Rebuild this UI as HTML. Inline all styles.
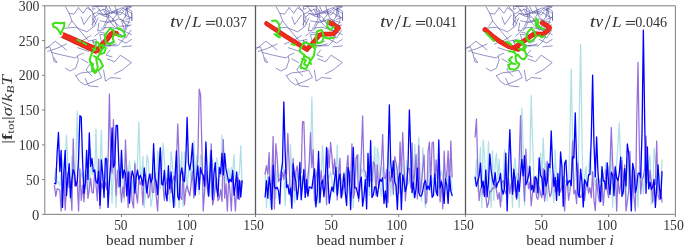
<!DOCTYPE html>
<html><head><meta charset="utf-8"><style>
html,body{margin:0;padding:0;background:#fff;overflow:hidden;}
svg{display:block;will-change:transform;}
text{font-family:"Liberation Serif",serif;fill:#333;}
</style></head><body>
<svg width="685" height="247" viewBox="0 0 685 247">
<rect width="685" height="247" fill="#fff"/>
<polyline points="54.45,180.37 55.79,168.30 57.13,182.01 58.47,182.21 59.81,185.75 61.15,174.32 62.49,159.11 63.83,178.76 65.17,167.55 66.51,135.00 67.85,165.26 69.19,175.29 70.53,201.31 71.87,155.85 73.22,169.18 74.56,180.42 75.90,161.46 77.24,111.30 78.58,161.10 79.92,179.26 81.26,172.24 82.60,178.36 83.94,170.61 85.28,187.62 86.62,170.51 87.96,169.91 89.30,190.98 90.64,149.85 91.98,174.55 93.32,170.76 94.66,177.04 96.00,129.00 97.34,174.27 98.68,176.47 100.02,169.07 101.36,130.00 102.70,174.46 104.04,186.64 105.38,176.91 106.72,156.26 108.06,196.08 109.40,173.25 110.74,165.35 112.08,203.31 113.42,169.87 114.77,151.84 116.11,207.40 117.45,174.45 118.79,164.70 120.13,193.78 121.47,167.60 122.81,175.19 124.15,201.13 125.49,156.34 126.83,166.78 128.17,174.96 129.51,161.12 130.85,178.60 132.19,180.10 133.53,192.94 134.87,160.74 136.21,185.82 137.55,160.14 138.89,121.80 140.23,172.49 141.57,177.86 142.91,156.30 144.25,207.40 145.59,190.36 146.93,155.23 148.27,160.33 149.61,183.00 150.95,206.73 152.29,197.85 153.63,152.81 154.98,188.89 156.32,196.28 157.66,151.23 159.00,164.52 160.34,188.66 161.68,173.17 163.02,143.30 164.36,159.44 165.70,178.22 167.04,175.30 168.38,169.28 169.72,202.11 171.06,151.77 172.40,164.25 173.74,183.39 175.08,206.19 176.42,171.72 177.76,156.52 179.10,207.40 180.44,172.95 181.78,151.56 183.12,206.34 184.46,151.92 185.80,168.27 187.14,191.21 188.48,169.72 189.82,165.38 191.16,182.18 192.50,162.89 193.84,141.00 195.19,182.59 196.53,155.48 197.87,182.73 199.21,194.41 200.55,154.61 201.89,158.81 203.23,198.05 204.57,194.14 205.91,164.24 207.25,177.58 208.59,185.18 209.93,153.72 211.27,197.14 212.61,159.62 213.95,193.87 215.29,187.25 216.63,157.79 217.97,164.83 219.31,176.42 220.65,176.48 221.99,135.00 223.33,165.93 224.67,169.95 226.01,182.43 227.35,173.22 228.69,168.23 230.03,181.46 231.37,167.45 232.71,170.94 234.05,154.53 235.40,183.15 236.74,188.29 238.08,175.20 239.42,173.49 240.76,145.70 242.10,186.99" fill="none" stroke="#b0e0e6" stroke-width="1.25" stroke-linejoin="round" stroke-linecap="round"/>
<polyline points="54.45,185.46 55.79,196.39 57.13,188.94 58.47,189.19 59.81,190.14 61.15,210.87 62.49,183.29 63.83,171.86 65.17,210.05 66.51,188.14 67.85,172.78 69.19,187.67 70.53,181.00 71.87,210.22 73.22,138.80 74.56,185.87 75.90,185.04 77.24,181.32 78.58,210.87 79.92,168.93 81.26,200.46 82.60,185.46 83.94,201.77 85.28,184.07 86.62,174.95 87.96,198.35 89.30,189.04 90.64,178.20 91.98,192.37 93.32,193.02 94.66,171.43 96.00,184.52 97.34,200.59 98.68,159.15 100.02,208.59 101.36,183.47 102.70,187.35 104.04,190.88 105.38,182.37 106.72,189.27 108.06,162.06 109.40,94.00 110.74,158.01 112.08,173.17 113.42,119.60 114.77,161.87 116.11,195.18 117.45,170.31 118.79,187.20 120.13,182.25 121.47,202.25 122.81,186.79 124.15,197.08 125.49,140.00 126.83,174.47 128.17,207.59 129.51,171.88 130.85,179.70 132.19,201.16 133.53,207.88 134.87,163.70 136.21,193.66 137.55,202.88 138.89,178.44 140.23,184.61 141.57,180.10 142.91,204.85 144.25,175.18 145.59,174.40 146.93,185.74 148.27,197.91 149.61,194.69 150.95,173.93 152.29,192.28 153.63,192.46 154.98,172.77 156.32,197.33 157.66,210.87 159.00,180.19 160.34,148.00 161.68,179.37 163.02,185.43 164.36,200.55 165.70,186.41 167.04,178.09 168.38,193.99 169.72,178.26 171.06,192.60 172.40,181.61 173.74,176.24 175.08,181.12 176.42,162.24 177.76,124.00 179.10,160.19 180.44,197.26 181.78,199.36 183.12,171.83 184.46,204.91 185.80,189.63 187.14,185.52 188.48,190.99 189.82,195.96 191.16,183.78 192.50,171.18 193.84,198.00 195.19,187.14 196.53,177.04 197.87,157.88 199.21,89.10 200.55,95.00 201.89,147.13 203.23,210.87 204.57,191.50 205.91,170.02 207.25,188.18 208.59,196.65 209.93,178.80 211.27,143.80 212.61,204.98 213.95,198.90 215.29,186.33 216.63,177.82 217.97,200.58 219.31,198.08 220.65,189.55 221.99,201.42 223.33,139.60 224.67,198.21 226.01,183.51 227.35,210.87 228.69,179.22 230.03,191.54 231.37,210.87 232.71,172.56 234.05,190.67 235.40,210.87 236.74,186.68 238.08,177.43 239.42,199.54 240.76,181.79 242.10,181.12" fill="none" stroke="#9370db" stroke-width="1.25" stroke-linejoin="round" stroke-linecap="round"/>
<polyline points="54.45,183.22 55.79,183.91 57.13,152.85 58.47,132.40 59.81,171.53 61.15,150.39 62.49,207.40 63.83,173.28 65.17,150.39 66.51,195.51 67.85,177.65 69.19,163.58 70.53,197.66 71.87,179.35 73.22,169.60 74.56,173.50 75.90,186.00 77.24,181.66 78.58,158.63 79.92,115.70 81.26,117.00 82.60,160.94 83.94,193.45 85.28,182.88 86.62,150.39 87.96,179.38 89.30,132.80 90.64,166.48 91.98,158.29 93.32,171.54 94.66,169.82 96.00,181.09 97.34,183.35 98.68,171.18 100.02,205.33 101.36,159.88 102.70,174.09 104.04,197.44 105.38,158.35 106.72,159.37 108.06,207.40 109.40,182.17 110.74,162.56 112.08,127.80 113.42,167.14 114.77,163.94 116.11,125.40 117.45,125.40 118.79,162.54 120.13,186.31 121.47,150.39 122.81,178.13 124.15,169.86 125.49,174.03 126.83,195.95 128.17,171.99 129.51,203.12 130.85,182.25 132.19,170.80 133.53,175.69 134.87,193.19 136.21,177.18 137.55,170.03 138.89,179.60 140.23,175.22 141.57,178.75 142.91,185.46 144.25,167.94 145.59,181.45 146.93,193.17 148.27,181.25 149.61,174.06 150.95,182.51 152.29,178.52 153.63,143.70 154.98,178.07 156.32,182.06 157.66,194.57 159.00,167.67 160.34,147.80 161.68,183.91 163.02,185.11 164.36,170.41 165.70,193.02 167.04,200.82 168.38,165.69 169.72,188.79 171.06,171.93 172.40,192.55 173.74,207.40 175.08,175.94 176.42,150.98 177.76,196.81 179.10,199.89 180.44,174.77 181.78,167.80 183.12,179.88 184.46,181.56 185.80,160.56 187.14,117.40 188.48,163.48 189.82,169.89 191.16,160.33 192.50,143.30 193.84,174.33 195.19,195.21 196.53,177.17 197.87,165.99 199.21,189.43 200.55,167.55 201.89,173.48 203.23,175.21 204.57,186.11 205.91,142.00 207.25,174.69 208.59,195.72 209.93,173.92 211.27,150.39 212.61,199.70 213.95,173.72 215.29,162.66 216.63,188.27 217.97,196.56 219.31,167.51 220.65,173.83 221.99,153.30 223.33,174.92 224.67,153.30 226.01,169.21 227.35,175.57 228.69,182.39 230.03,179.27 231.37,181.69 232.71,170.49 234.05,195.31 235.40,184.39 236.74,171.99 238.08,198.76 239.42,180.14 240.76,197.05 242.10,180.90" fill="none" stroke="#0000ff" stroke-width="1.3" stroke-linejoin="round" stroke-linecap="round"/>
<polyline points="265.12,172.00 266.45,207.40 267.79,171.91 269.13,164.00 270.46,207.40 271.80,196.85 273.13,151.90 274.47,183.43 275.81,198.33 277.14,170.43 278.48,173.11 279.81,176.97 281.15,173.58 282.48,162.84 283.82,172.79 285.16,205.80 286.49,178.50 287.83,184.73 289.16,192.34 290.50,144.60 291.84,177.19 293.17,176.06 294.51,203.02 295.84,188.19 297.18,168.09 298.52,183.67 299.85,186.28 301.19,176.34 302.52,188.60 303.86,167.87 305.19,176.22 306.53,186.31 307.87,187.14 309.20,176.54 310.54,149.78 311.87,97.20 313.21,158.10 314.55,204.67 315.88,171.85 317.22,171.63 318.55,203.89 319.89,176.27 321.23,176.34 322.56,145.50 323.90,174.03 325.23,183.58 326.57,191.39 327.90,175.45 329.24,177.84 330.58,171.97 331.91,179.29 333.25,192.10 334.58,192.87 335.92,174.86 337.26,145.00 338.59,193.40 339.93,173.21 341.26,183.68 342.60,178.88 343.94,171.42 345.27,188.57 346.61,166.50 347.94,193.05 349.28,170.98 350.61,176.50 351.95,169.01 353.29,207.40 354.62,178.92 355.96,163.25 357.29,178.21 358.63,154.83 359.97,185.50 361.30,169.10 362.64,171.35 363.97,173.96 365.31,177.96 366.65,184.34 367.98,171.52 369.32,195.44 370.65,160.51 371.99,194.95 373.32,177.11 374.66,146.73 376.00,196.37 377.33,147.90 378.67,156.07 380.00,186.68 381.34,196.06 382.68,167.13 384.01,170.78 385.35,178.06 386.68,193.68 388.02,151.23 389.35,163.41 390.69,195.91 392.03,175.43 393.36,181.07 394.70,161.64 396.03,195.52 397.37,170.81 398.71,163.80 400.04,190.40 401.38,164.27 402.71,163.91 404.05,191.40 405.39,189.65 406.72,160.56 408.06,184.10 409.39,180.53 410.73,157.28 412.06,172.91 413.40,197.19 414.74,144.61 416.07,186.94 417.41,173.40 418.74,137.30 420.08,175.91 421.42,201.31 422.75,147.80 424.09,166.02 425.42,207.40 426.76,191.62 428.10,184.63 429.43,157.59 430.77,192.55 432.10,183.24 433.44,177.67 434.77,180.65 436.11,194.39 437.45,173.08 438.78,196.01 440.12,176.44 441.45,170.79 442.79,177.94 444.13,186.50 445.46,189.54 446.80,171.07 448.13,185.82 449.47,159.31 450.81,175.06 452.14,190.21" fill="none" stroke="#b0e0e6" stroke-width="1.25" stroke-linejoin="round" stroke-linecap="round"/>
<polyline points="265.12,174.10 266.45,165.60 267.79,173.95 269.13,152.69 270.46,199.54 271.80,178.83 273.13,136.49 274.47,208.79 275.81,143.70 277.14,157.31 278.48,181.81 279.81,178.64 281.15,180.05 282.48,172.23 283.82,179.15 285.16,169.26 286.49,174.25 287.83,133.30 289.16,166.07 290.50,195.89 291.84,190.15 293.17,158.42 294.51,190.70 295.84,171.59 297.18,165.93 298.52,181.14 299.85,174.40 301.19,172.21 302.52,121.50 303.86,121.50 305.19,167.82 306.53,192.59 307.87,177.68 309.20,162.81 310.54,132.70 311.87,167.61 313.21,149.83 314.55,200.86 315.88,177.49 317.22,172.42 318.55,159.32 319.89,183.30 321.23,170.52 322.56,188.98 323.90,176.96 325.23,174.95 326.57,204.62 327.90,148.97 329.24,167.66 330.58,142.40 331.91,156.35 333.25,174.57 334.58,159.00 335.92,173.21 337.26,199.90 338.59,174.43 339.93,158.30 341.26,198.18 342.60,194.33 343.94,183.58 345.27,187.26 346.61,168.04 347.94,155.39 349.28,184.84 350.61,180.39 351.95,143.90 353.29,198.10 354.62,192.11 355.96,158.23 357.29,154.60 358.63,201.38 359.97,187.10 361.30,154.25 362.64,116.00 363.97,170.61 365.31,171.72 366.65,179.63 367.98,173.58 369.32,181.12 370.65,179.91 371.99,181.39 373.32,161.68 374.66,164.20 376.00,194.75 377.33,164.99 378.67,187.97 380.00,178.13 381.34,164.29 382.68,134.40 384.01,177.45 385.35,178.38 386.68,169.48 388.02,202.39 389.35,171.63 390.69,181.47 392.03,174.12 393.36,194.34 394.70,156.50 396.03,162.98 397.37,172.41 398.71,193.59 400.04,141.90 401.38,174.13 402.71,132.50 404.05,164.99 405.39,200.70 406.72,183.55 408.06,168.29 409.39,168.36 410.73,187.89 412.06,142.80 413.40,185.61 414.74,172.74 416.07,154.55 417.41,198.99 418.74,145.66 420.08,192.44 421.42,184.09 422.75,168.35 424.09,155.00 425.42,203.85 426.76,201.84 428.10,151.27 429.43,141.90 430.77,182.76 432.10,143.08 433.44,141.90 434.77,183.67 436.11,159.79 437.45,178.33 438.78,161.65 440.12,201.87 441.45,180.09 442.79,208.79 444.13,151.06 445.46,180.12 446.80,174.37 448.13,151.00 449.47,191.10 450.81,141.00 452.14,176.98" fill="none" stroke="#9370db" stroke-width="1.25" stroke-linejoin="round" stroke-linecap="round"/>
<polyline points="265.12,197.02 266.45,180.68 267.79,198.31 269.13,176.89 270.46,186.30 271.80,209.43 273.13,165.19 274.47,187.00 275.81,188.78 277.14,187.17 278.48,190.64 279.81,203.86 281.15,172.20 282.48,163.44 283.82,101.90 285.16,151.48 286.49,187.56 287.83,184.84 289.16,194.21 290.50,188.17 291.84,208.21 293.17,163.80 294.51,176.10 295.84,181.35 297.18,199.64 298.52,188.14 299.85,162.50 301.19,199.77 302.52,183.97 303.86,169.65 305.19,197.36 306.53,179.76 307.87,196.08 309.20,186.82 310.54,187.43 311.87,188.60 313.21,177.76 314.55,168.98 315.88,206.91 317.22,194.28 318.55,151.50 319.89,202.56 321.23,183.15 322.56,180.04 323.90,196.75 325.23,183.22 326.57,147.30 327.90,177.20 329.24,203.28 330.58,193.96 331.91,186.83 333.25,191.43 334.58,179.58 335.92,167.40 337.26,195.19 338.59,179.99 339.93,173.83 341.26,197.48 342.60,186.82 343.94,173.74 345.27,192.44 346.61,205.34 347.94,167.40 349.28,173.40 350.61,209.48 351.95,179.72 353.29,147.30 354.62,187.76 355.96,187.40 357.29,192.15 358.63,198.24 359.97,182.56 361.30,177.21 362.64,206.20 363.97,196.13 365.31,179.61 366.65,208.87 367.98,153.40 369.32,186.53 370.65,140.60 371.99,197.56 373.32,195.01 374.66,186.85 376.00,187.53 377.33,196.35 378.67,185.87 380.00,179.42 381.34,181.37 382.68,177.73 384.01,203.36 385.35,190.97 386.68,207.26 388.02,159.46 389.35,105.00 390.69,162.23 392.03,177.12 393.36,161.00 394.70,181.83 396.03,185.78 397.37,209.48 398.71,178.16 400.04,172.92 401.38,209.48 402.71,174.97 404.05,181.59 405.39,191.56 406.72,185.59 408.06,164.10 409.39,110.00 410.73,150.63 412.06,192.61 413.40,182.44 414.74,197.77 416.07,188.35 417.41,168.12 418.74,192.32 420.08,196.15 421.42,195.81 422.75,191.01 424.09,183.17 425.42,180.51 426.76,189.52 428.10,185.96 429.43,189.78 430.77,175.61 432.10,197.24 433.44,195.44 434.77,173.97 436.11,191.29 437.45,195.65 438.78,140.00 440.12,187.87 441.45,181.95 442.79,187.98 444.13,203.40 445.46,178.80 446.80,185.38 448.13,203.46 449.47,176.24 450.81,190.96 452.14,195.53" fill="none" stroke="#0000ff" stroke-width="1.3" stroke-linejoin="round" stroke-linecap="round"/>
<polyline points="475.11,184.79 476.45,159.66 477.78,191.74 479.12,168.73 480.45,147.43 481.79,207.40 483.13,140.00 484.46,154.72 485.80,189.56 487.13,191.12 488.47,141.36 489.80,187.36 491.14,207.40 492.47,150.95 493.81,200.36 495.14,163.96 496.48,153.40 497.81,179.31 499.15,159.02 500.48,183.76 501.82,201.49 503.15,189.70 504.49,149.52 505.82,175.44 507.16,200.50 508.49,158.97 509.83,171.09 511.17,179.27 512.50,207.40 513.84,169.18 515.17,158.10 516.51,179.55 517.84,173.14 519.18,207.40 520.51,157.51 521.85,108.30 523.18,151.09 524.52,205.11 525.85,180.59 527.19,167.10 528.52,169.87 529.86,161.95 531.19,95.50 532.53,140.83 533.86,175.98 535.20,181.57 536.53,175.57 537.87,187.24 539.21,196.92 540.54,153.01 541.88,177.30 543.21,138.20 544.55,169.22 545.88,162.43 547.22,200.67 548.55,176.53 549.89,163.57 551.22,177.52 552.56,188.21 553.89,202.64 555.23,150.00 556.56,176.71 557.90,189.33 559.23,178.09 560.57,170.72 561.90,186.86 563.24,191.17 564.57,179.87 565.91,180.84 567.25,184.74 568.58,190.15 569.92,135.10 571.25,69.20 572.59,141.94 573.92,189.03 575.26,173.13 576.59,157.95 577.93,185.26 579.26,115.97 580.60,44.60 581.93,134.07 583.27,205.95 584.60,176.74 585.94,166.61 587.27,189.54 588.61,176.86 589.94,151.50 591.28,173.69 592.62,172.69 593.95,174.13 595.29,185.63 596.62,177.00 597.96,179.62 599.29,182.26 600.63,178.50 601.96,199.64 603.30,174.13 604.63,172.40 605.97,162.40 607.30,174.04 608.64,166.93 609.97,186.32 611.31,151.36 612.64,207.40 613.98,173.98 615.31,188.96 616.65,162.42 617.98,145.10 619.32,122.80 620.66,165.33 621.99,156.54 623.33,194.42 624.66,172.27 626.00,204.63 627.33,158.59 628.67,171.42 630.00,187.62 631.34,184.79 632.67,163.70 634.01,188.00 635.34,176.60 636.68,182.11 638.01,207.23 639.35,165.82 640.68,169.91 642.02,175.84 643.35,193.80 644.69,173.37 646.02,166.24 647.36,182.69 648.70,164.16 650.03,155.51 651.37,204.29 652.70,201.77 654.04,148.13 655.37,161.11 656.71,183.43 658.04,171.44 659.38,187.23 660.71,186.62 662.05,159.79" fill="none" stroke="#b0e0e6" stroke-width="1.25" stroke-linejoin="round" stroke-linecap="round"/>
<polyline points="475.11,137.00 476.45,119.00 477.78,169.00 479.12,200.69 480.45,189.84 481.79,185.16 483.13,194.09 484.46,185.52 485.80,196.42 487.13,207.40 488.47,203.01 489.80,190.83 491.14,191.82 492.47,188.04 493.81,188.34 495.14,184.29 496.48,190.38 497.81,199.10 499.15,192.59 500.48,206.91 501.82,183.03 503.15,180.34 504.49,189.52 505.82,193.76 507.16,189.35 508.49,177.82 509.83,193.67 511.17,183.96 512.50,183.71 513.84,191.20 515.17,176.80 516.51,199.61 517.84,193.59 519.18,161.21 520.51,115.60 521.85,165.70 523.18,176.47 524.52,201.25 525.85,149.20 527.19,174.99 528.52,188.60 529.86,182.03 531.19,205.79 532.53,192.24 533.86,177.47 535.20,177.76 536.53,197.03 537.87,199.53 539.21,186.29 540.54,193.82 541.88,197.72 543.21,168.55 544.55,201.07 545.88,191.98 547.22,161.21 548.55,186.89 549.89,196.85 551.22,193.71 552.56,180.56 553.89,174.05 555.23,191.89 556.56,180.48 557.90,190.83 559.23,186.46 560.57,192.03 561.90,184.78 563.24,176.39 564.57,210.87 565.91,186.07 567.25,180.20 568.58,200.11 569.92,191.63 571.25,176.22 572.59,141.00 573.92,194.00 575.26,190.11 576.59,203.73 577.93,163.02 579.26,193.65 580.60,197.45 581.93,196.39 583.27,184.22 584.60,200.36 585.94,186.08 587.27,181.70 588.61,193.16 589.94,187.61 591.28,197.62 592.62,171.58 593.95,200.21 595.29,210.66 596.62,179.02 597.96,193.76 599.29,201.96 600.63,186.52 601.96,182.80 603.30,205.38 604.63,186.82 605.97,169.45 607.30,190.81 608.64,197.50 609.97,163.67 611.31,127.50 612.64,163.64 613.98,180.60 615.31,166.00 616.65,210.87 617.98,177.60 619.32,193.55 620.66,185.00 621.99,160.60 623.33,186.71 624.66,164.96 626.00,210.87 627.33,201.52 628.67,191.69 630.00,151.30 631.34,200.48 632.67,173.90 634.01,198.11 635.34,210.87 636.68,123.44 638.01,62.40 639.35,148.53 640.68,193.82 642.02,179.38 643.35,177.28 644.69,167.84 646.02,136.00 647.36,167.11 648.70,186.62 650.03,170.06 651.37,182.77 652.70,202.12 654.04,181.83 655.37,184.63 656.71,141.00 658.04,194.73 659.38,199.78 660.71,188.92 662.05,202.04" fill="none" stroke="#9370db" stroke-width="1.25" stroke-linejoin="round" stroke-linecap="round"/>
<polyline points="475.11,177.15 476.45,186.33 477.78,181.14 479.12,175.96 480.45,163.20 481.79,187.34 483.13,181.03 484.46,196.43 485.80,169.84 487.13,196.93 488.47,182.42 489.80,153.80 491.14,170.41 492.47,179.50 493.81,184.95 495.14,172.56 496.48,187.43 497.81,182.81 499.15,180.78 500.48,173.33 501.82,188.88 503.15,194.00 504.49,188.43 505.82,153.18 507.16,210.87 508.49,163.90 509.83,129.70 511.17,165.69 512.50,194.21 513.84,169.04 515.17,181.79 516.51,198.06 517.84,180.50 519.18,191.38 520.51,174.66 521.85,159.41 523.18,175.97 524.52,155.60 525.85,184.75 527.19,181.24 528.52,176.08 529.86,166.34 531.19,189.85 532.53,185.36 533.86,192.07 535.20,176.71 536.53,178.94 537.87,192.90 539.21,158.00 540.54,175.12 541.88,177.92 543.21,194.63 544.55,170.21 545.88,186.03 547.22,181.33 548.55,163.80 549.89,167.67 551.22,131.00 552.56,165.13 553.89,186.36 555.23,177.34 556.56,200.45 557.90,173.31 559.23,195.40 560.57,152.00 561.90,166.23 563.24,206.12 564.57,163.76 565.91,160.17 567.25,185.18 568.58,181.43 569.92,180.48 571.25,185.54 572.59,156.77 573.92,157.90 575.26,112.80 576.59,163.30 577.93,193.14 579.26,197.21 580.60,169.18 581.93,181.66 583.27,206.92 584.60,179.55 585.94,183.24 587.27,186.19 588.61,174.55 589.94,174.57 591.28,138.05 592.62,75.20 593.95,143.27 595.29,176.97 596.62,136.90 597.96,172.09 599.29,189.23 600.63,201.68 601.96,166.58 603.30,181.04 604.63,180.98 605.97,189.18 607.30,162.94 608.64,183.79 609.97,194.44 611.31,172.22 612.64,174.70 613.98,195.61 615.31,167.36 616.65,177.97 617.98,180.68 619.32,172.80 620.66,157.27 621.99,196.39 623.33,191.27 624.66,168.58 626.00,185.85 627.33,144.00 628.67,153.18 630.00,180.43 631.34,210.87 632.67,163.30 634.01,169.76 635.34,192.57 636.68,187.14 638.01,173.70 639.35,172.91 640.68,177.69 642.02,133.36 643.35,30.10 644.69,121.50 646.02,193.28 647.36,146.90 648.70,188.93 650.03,182.17 651.37,189.55 652.70,186.84 654.04,179.48 655.37,207.37 656.71,187.41 658.04,164.90 659.38,187.48 660.71,198.87 662.05,171.55" fill="none" stroke="#0000ff" stroke-width="1.3" stroke-linejoin="round" stroke-linecap="round"/>
<g fill="none" stroke="#5858a6" stroke-width="0.68" stroke-linejoin="round" stroke-linecap="round" opacity="0.95">
<polyline points="65.4,6.8 69.1,13.3 73.8,14.2 78.4,7.7"/>
<polyline points="69.1,13.3 71.9,20.8 68.2,26.3"/>
<polyline points="78.4,7.7 83.1,13.3 86.8,7.7 92.4,11.4"/>
<polyline points="81.2,17.0 84.0,24.5 90.6,15.2"/>
<polyline points="64.5,28.2 75.7,27.3 86.8,31.9 94.3,26.3 98.0,18.0"/>
<polyline points="71.9,20.8 79.4,30.1 88.7,41.2 96.1,39.4"/>
<polyline points="45.9,48.7 55.2,41.2 62.6,46.8 66.3,50.0"/>
<polyline points="73.8,44.0 83.1,40.3 90.6,35.7"/>
<polyline points="96.1,5.9 103.6,15.2 112.9,11.4 122.2,7.7 131.5,13.3"/>
<polyline points="99.9,20.8 109.2,22.6 118.5,18.9 129.7,22.6"/>
<polyline points="101.7,28.2 111.0,27.3 122.2,30.1 131.5,34.7"/>
<polyline points="105.5,7.7 107.3,18.9 103.6,26.3"/>
<polyline points="114.8,5.9 118.5,17.0 125.9,24.5 124.0,35.7"/>
<polyline points="125.9,7.7 129.7,18.9 125.9,30.1"/>
<polyline points="98.0,13.3 109.2,15.2 114.8,20.8 118.5,30.1"/>
<polyline points="118.5,39.4 125.9,43.1 131.5,39.4"/>
<polyline points="107.3,33.8 99.9,31.9 95.0,36.0"/>
<polyline points="88.0,6.5 92.0,11.4 95.5,19.0 92.0,24.5"/>
<polyline points="109.0,6.2 111.0,11.0 116.0,14.0 121.0,12.0 127.0,16.0 132.0,18.0"/>
<polyline points="100.0,11.0 104.0,9.0 108.0,12.0"/>
<polyline points="112.0,36.0 116.0,33.0 121.0,35.0 126.0,38.0 131.0,30.0"/>
<polyline points="123.0,21.0 127.0,26.0 131.0,25.0"/>
<polyline points="104.0,40.0 109.0,43.0 114.0,41.0"/>
<polyline points="45.9,47.7 49.6,46.8 52.4,54.2 54.2,61.7 57.0,62.6 54.2,58.0"/>
<polyline points="47.7,51.4 56.1,48.7 66.3,44.0"/>
<polyline points="51.4,52.4 62.6,55.2 75.7,58.0 78.4,55.2 83.1,53.3"/>
<polyline points="65.4,68.2 70.1,71.0 75.7,68.2 78.4,59.8 77.5,56.1"/>
<polyline points="75.7,75.7 81.2,72.9 90.6,71.9 98.0,70.1 101.7,77.5 94.3,81.2 85.0,85.0 79.4,81.2 75.7,75.7"/>
<polyline points="85.0,78.5 88.7,85.9 98.0,86.8"/>
<polyline points="103.6,70.1 105.5,81.2 111.0,77.5 120.4,78.5"/>
<polyline points="107.3,58.9 114.8,61.7 120.4,55.2 131.5,62.6 122.2,70.1 114.8,73.8"/>
<polyline points="107.3,45.9 116.6,44.0"/>
<polyline points="122.2,46.8 131.5,45.9"/>
<polyline points="77.5,47.7 88.7,51.4"/>
<polyline points="81.2,58.9 87.8,62.6"/>
<polyline points="90.0,64.0 86.0,70.0 92.0,76.0"/>
<polyline points="110.0,50.0 106.0,55.0 112.0,57.0"/>
<polyline points="117.2,32.8 124.9,36.8 122.0,41.0 117.7,45.8 109.4,45.8"/>
<polyline points="98.9,23.2 97.7,31.0 103.6,29.6 107.9,21.1 113.7,20.8"/>
<polyline points="123.5,11.7 119.9,15.1 115.3,11.1 106.2,15.0 103.2,9.3"/>
<polyline points="129.4,25.7 119.7,26.3 112.2,20.0 116.4,15.0 117.3,9.2"/>
<polyline points="100.0,9.1 96.7,12.8 92.8,13.6 92.8,20.7 92.8,26.1"/>
<polyline points="112.1,31.5 108.9,35.4 99.7,34.3 101.8,43.0 107.4,45.8"/>
<polyline points="95.1,8.4 92.8,9.5 92.8,6.3 98.6,6.3 101.9,6.3"/>
<polyline points="122.7,10.6 131.3,7.0 125.2,6.3 120.3,10.8 111.1,13.6"/>
<polyline points="107.0,39.1 101.2,42.1 102.2,45.8 110.6,45.6 108.4,45.8"/>
<polyline points="96.5,41.3 92.8,42.4 92.8,40.5 92.8,40.2 94.5,45.8"/>
<polyline points="96.0,24.1 92.8,18.8 99.1,13.6 104.0,16.1 109.7,17.2"/>
<polyline points="125.2,17.1 126.4,7.9 131.8,11.2 131.8,14.7 131.8,16.8"/>
<polyline points="109.3,11.9 105.6,6.3 106.5,6.3 103.7,6.3 94.9,6.3"/>
<polyline points="126.0,19.4 131.8,17.4 131.8,20.9 131.8,19.8 131.8,13.5"/>
<polyline points="122.5,31.0 115.2,27.1 111.7,23.5 108.3,18.2 109.2,10.9"/>
<polyline points="124.2,29.5 121.7,21.6 127.2,14.3 127.6,6.3 131.8,6.3"/>
</g>
<path d="M59.66,36.93L97.77,54.97A3.70,3.70 0 0 1 100.83,48.23L62.14,31.47A3.00,3.00 0 0 1 59.66,36.93Z" fill="#d42214"/>
<path d="M60.03,36.11L98.14,54.15A2.80,2.80 0 0 1 100.46,49.05L61.77,32.29A2.10,2.10 0 0 1 60.03,36.11Z" fill="#f02c1c"/>
<polyline points="97.5,50.5 102.3,44.2 107.2,39.3 110.8,34.5 112.8,32.8 116.3,33.4" fill="none" stroke="#d42214" stroke-width="5.0" stroke-linecap="round" stroke-linejoin="round"/>
<polyline points="97.5,50.5 102.3,44.2 107.2,39.3 110.8,34.5 112.8,32.8 116.3,33.4" fill="none" stroke="#f02c1c" stroke-width="3.5" stroke-linecap="round" stroke-linejoin="round"/>
<polyline points="52.9,23.8 55.8,22.8 60.6,23.3 64.5,22.8 64,26.7 62.6,29.6 60.6,34 58.7,30.6 56.3,27.7 53.3,26.7 52.9,23.8" fill="none" stroke="#3ee016" stroke-width="2.0" stroke-linecap="round" stroke-linejoin="round" stroke-dasharray="1.5 0.6"/>
<polyline points="77.4,39.8 81,41.6" fill="none" stroke="#3ee016" stroke-width="2.0" stroke-linecap="round" stroke-linejoin="round" stroke-dasharray="1.5 0.6"/>
<polyline points="83,42.6 86.4,44.6" fill="none" stroke="#3ee016" stroke-width="2.0" stroke-linecap="round" stroke-linejoin="round" stroke-dasharray="1.5 0.6"/>
<polyline points="93,48.5 95.5,50" fill="none" stroke="#3ee016" stroke-width="2.0" stroke-linecap="round" stroke-linejoin="round" stroke-dasharray="1.5 0.6"/>
<polyline points="96.2,41.5 98.6,43.1 101,51.2 99.4,54.4 96.2,59.3 97.8,67.4 96.2,72.2 92.1,67.4 89.7,59.3 92.1,52.8 95.4,48 96.2,41.5" fill="none" stroke="#3ee016" stroke-width="2.0" stroke-linecap="round" stroke-linejoin="round" stroke-dasharray="1.5 0.6"/>
<polyline points="99.4,54.4 104.3,52.8 105.9,48 102.7,44.7" fill="none" stroke="#3ee016" stroke-width="2.0" stroke-linecap="round" stroke-linejoin="round" stroke-dasharray="1.5 0.6"/>
<polyline points="94,56 100,60 103,66 99,70" fill="none" stroke="#3ee016" stroke-width="2.0" stroke-linecap="round" stroke-linejoin="round" stroke-dasharray="1.5 0.6"/>
<polyline points="90,62 93,64 92,70 95,73" fill="none" stroke="#3ee016" stroke-width="2.0" stroke-linecap="round" stroke-linejoin="round" stroke-dasharray="1.5 0.6"/>
<polyline points="101,45 104,47 102,50" fill="none" stroke="#3ee016" stroke-width="2.0" stroke-linecap="round" stroke-linejoin="round" stroke-dasharray="1.5 0.6"/>
<polyline points="117.4,28 121.4,29.4 124.1,32.7 125.5,35.4 122.1,36.7 118.1,36 116,34" fill="none" stroke="#3ee016" stroke-width="2.0" stroke-linecap="round" stroke-linejoin="round" stroke-dasharray="1.5 0.6"/>
<polyline points="110,28.7 113.4,30 114,32.7 112.7,38 114,42 110,44 106,43.4 104.7,35.4 107.4,32 110,28.7" fill="none" stroke="#3ee016" stroke-width="2.0" stroke-linecap="round" stroke-linejoin="round" stroke-dasharray="1.5 0.6"/>
<g fill="none" stroke="#5858a6" stroke-width="0.68" stroke-linejoin="round" stroke-linecap="round" opacity="0.95">
<polyline points="276.1,6.8 279.8,13.3 284.5,14.2 289.1,7.7"/>
<polyline points="279.8,13.3 282.6,20.8 278.9,26.3"/>
<polyline points="289.1,7.7 293.8,13.3 297.5,7.7 303.1,11.4"/>
<polyline points="291.9,17.0 294.7,24.5 301.3,15.2"/>
<polyline points="275.2,28.2 286.4,27.3 297.5,31.9 305.0,26.3 308.7,18.0"/>
<polyline points="282.6,20.8 290.1,30.1 299.4,41.2 306.8,39.4"/>
<polyline points="256.6,48.7 265.9,41.2 273.3,46.8 277.0,50.0"/>
<polyline points="284.5,44.0 293.8,40.3 301.3,35.7"/>
<polyline points="306.8,5.9 314.3,15.2 323.6,11.4 332.9,7.7 342.2,13.3"/>
<polyline points="310.6,20.8 319.9,22.6 329.2,18.9 340.4,22.6"/>
<polyline points="312.4,28.2 321.7,27.3 332.9,30.1 342.2,34.7"/>
<polyline points="316.2,7.7 318.0,18.9 314.3,26.3"/>
<polyline points="325.5,5.9 329.2,17.0 336.6,24.5 334.7,35.7"/>
<polyline points="336.6,7.7 340.4,18.9 336.6,30.1"/>
<polyline points="308.7,13.3 319.9,15.2 325.5,20.8 329.2,30.1"/>
<polyline points="329.2,39.4 336.6,43.1 342.2,39.4"/>
<polyline points="318.0,33.8 310.6,31.9 305.7,36.0"/>
<polyline points="298.7,6.5 302.7,11.4 306.2,19.0 302.7,24.5"/>
<polyline points="319.7,6.2 321.7,11.0 326.7,14.0 331.7,12.0 337.7,16.0 342.7,18.0"/>
<polyline points="310.7,11.0 314.7,9.0 318.7,12.0"/>
<polyline points="322.7,36.0 326.7,33.0 331.7,35.0 336.7,38.0 341.7,30.0"/>
<polyline points="333.7,21.0 337.7,26.0 341.7,25.0"/>
<polyline points="314.7,40.0 319.7,43.0 324.7,41.0"/>
<polyline points="256.6,47.7 260.3,46.8 263.1,54.2 264.9,61.7 267.7,62.6 264.9,58.0"/>
<polyline points="258.4,51.4 266.8,48.7 277.0,44.0"/>
<polyline points="262.1,52.4 273.3,55.2 286.4,58.0 289.1,55.2 293.8,53.3"/>
<polyline points="276.1,68.2 280.8,71.0 286.4,68.2 289.1,59.8 288.2,56.1"/>
<polyline points="286.4,75.7 291.9,72.9 301.3,71.9 308.7,70.1 312.4,77.5 305.0,81.2 295.7,85.0 290.1,81.2 286.4,75.7"/>
<polyline points="295.7,78.5 299.4,85.9 308.7,86.8"/>
<polyline points="314.3,70.1 316.2,81.2 321.7,77.5 331.1,78.5"/>
<polyline points="318.0,58.9 325.5,61.7 331.1,55.2 342.2,62.6 332.9,70.1 325.5,73.8"/>
<polyline points="318.0,45.9 327.3,44.0"/>
<polyline points="332.9,46.8 342.2,45.9"/>
<polyline points="288.2,47.7 299.4,51.4"/>
<polyline points="291.9,58.9 298.5,62.6"/>
<polyline points="300.7,64.0 296.7,70.0 302.7,76.0"/>
<polyline points="320.7,50.0 316.7,55.0 322.7,57.0"/>
<polyline points="327.9,32.8 335.6,36.8 332.7,41.0 328.4,45.8 320.1,45.8"/>
<polyline points="309.6,23.2 308.4,31.0 314.3,29.6 318.6,21.1 324.4,20.8"/>
<polyline points="334.2,11.7 330.6,15.1 326.0,11.1 316.9,15.0 313.9,9.3"/>
<polyline points="340.1,25.7 330.4,26.3 322.9,20.0 327.1,15.0 328.0,9.2"/>
<polyline points="310.7,9.1 307.4,12.8 303.5,13.6 303.5,20.7 303.5,26.1"/>
<polyline points="322.8,31.5 319.6,35.4 310.4,34.3 312.5,43.0 318.1,45.8"/>
<polyline points="305.8,8.4 303.5,9.5 303.5,6.3 309.3,6.3 312.6,6.3"/>
<polyline points="333.4,10.6 342.0,7.0 335.9,6.3 331.0,10.8 321.8,13.6"/>
<polyline points="317.7,39.1 311.9,42.1 312.9,45.8 321.3,45.6 319.1,45.8"/>
<polyline points="307.2,41.3 303.5,42.4 303.5,40.5 303.5,40.2 305.2,45.8"/>
<polyline points="306.7,24.1 303.5,18.8 309.8,13.6 314.7,16.1 320.4,17.2"/>
<polyline points="335.9,17.1 337.1,7.9 342.5,11.2 342.5,14.7 342.5,16.8"/>
<polyline points="320.0,11.9 316.3,6.3 317.2,6.3 314.4,6.3 305.6,6.3"/>
<polyline points="336.7,19.4 342.5,17.4 342.5,20.9 342.5,19.8 342.5,13.5"/>
<polyline points="333.2,31.0 325.9,27.1 322.4,23.5 319.0,18.2 319.9,10.9"/>
<polyline points="334.9,29.5 332.4,21.6 337.9,14.3 338.3,6.3 342.5,6.3"/>
</g>
<polyline points="266.5,23.6 286,36.5 307,49.6" fill="none" stroke="#d42214" stroke-width="4.7" stroke-linecap="round" stroke-linejoin="round"/>
<polyline points="266.5,23.6 286,36.5 307,49.6" fill="none" stroke="#f02c1c" stroke-width="3.2" stroke-linecap="round" stroke-linejoin="round"/>
<polyline points="308.6,47.5 312.1,43.9 319.4,35.2 322,34.2 330.7,34.2 334,33.4 338.6,28 332.4,23.8 329.3,22.3" fill="none" stroke="#d42214" stroke-width="4.7" stroke-linecap="round" stroke-linejoin="round"/>
<polyline points="308.6,47.5 312.1,43.9 319.4,35.2 322,34.2 330.7,34.2 334,33.4 338.6,28 332.4,23.8 329.3,22.3" fill="none" stroke="#f02c1c" stroke-width="3.2" stroke-linecap="round" stroke-linejoin="round"/>
<polyline points="272,21 276,20.5 279,24 280,29 277,34 280,37" fill="none" stroke="#3ee016" stroke-width="2.0" stroke-linecap="round" stroke-linejoin="round" stroke-dasharray="1.5 0.6"/>
<polyline points="274.5,34 279,37.5" fill="none" stroke="#3ee016" stroke-width="2.0" stroke-linecap="round" stroke-linejoin="round" stroke-dasharray="1.5 0.6"/>
<polyline points="291.5,44 295,45" fill="none" stroke="#3ee016" stroke-width="2.0" stroke-linecap="round" stroke-linejoin="round" stroke-dasharray="1.5 0.6"/>
<polyline points="303.9,42.2 299.4,51.1 305,55.6 301.7,62.2 300.6,67.8 306.1,68.9 309.4,62.2 313.9,55.6 315,48.9 310.6,44.4 303.9,42.2" fill="none" stroke="#3ee016" stroke-width="2.0" stroke-linecap="round" stroke-linejoin="round" stroke-dasharray="1.5 0.6"/>
<polyline points="317.2,31.1 321.7,30 323.9,36.7 321.7,42.2 317.2,43.3 316.1,37.8 317.2,31.1" fill="none" stroke="#3ee016" stroke-width="2.0" stroke-linecap="round" stroke-linejoin="round" stroke-dasharray="1.5 0.6"/>
<polyline points="328.3,21.1 327.2,26.7 330.6,30 333.9,26.7" fill="none" stroke="#3ee016" stroke-width="2.0" stroke-linecap="round" stroke-linejoin="round" stroke-dasharray="1.5 0.6"/>
<polyline points="323.9,37 328,38.5 333.9,37.8" fill="none" stroke="#3ee016" stroke-width="2.0" stroke-linecap="round" stroke-linejoin="round" stroke-dasharray="1.5 0.6"/>
<polyline points="304,56 309,58 311,64" fill="none" stroke="#3ee016" stroke-width="2.0" stroke-linecap="round" stroke-linejoin="round" stroke-dasharray="1.5 0.6"/>
<polyline points="302,59 306,60 304,64 307,66" fill="none" stroke="#3ee016" stroke-width="2.0" stroke-linecap="round" stroke-linejoin="round" stroke-dasharray="1.5 0.6"/>
<polyline points="311,45 314,44 316,47" fill="none" stroke="#3ee016" stroke-width="2.0" stroke-linecap="round" stroke-linejoin="round" stroke-dasharray="1.5 0.6"/>
<g fill="none" stroke="#5858a6" stroke-width="0.68" stroke-linejoin="round" stroke-linecap="round" opacity="0.95">
<polyline points="486.1,6.8 489.8,13.3 494.5,14.2 499.1,7.7"/>
<polyline points="489.8,13.3 492.6,20.8 488.9,26.3"/>
<polyline points="499.1,7.7 503.8,13.3 507.5,7.7 513.1,11.4"/>
<polyline points="501.9,17.0 504.7,24.5 511.3,15.2"/>
<polyline points="485.2,28.2 496.4,27.3 507.5,31.9 515.0,26.3 518.7,18.0"/>
<polyline points="492.6,20.8 500.1,30.1 509.4,41.2 516.8,39.4"/>
<polyline points="466.6,48.7 475.9,41.2 483.3,46.8 487.0,50.0"/>
<polyline points="494.5,44.0 503.8,40.3 511.3,35.7"/>
<polyline points="516.8,5.9 524.3,15.2 533.6,11.4 542.9,7.7 552.2,13.3"/>
<polyline points="520.6,20.8 529.9,22.6 539.2,18.9 550.4,22.6"/>
<polyline points="522.4,28.2 531.7,27.3 542.9,30.1 552.2,34.7"/>
<polyline points="526.2,7.7 528.0,18.9 524.3,26.3"/>
<polyline points="535.5,5.9 539.2,17.0 546.6,24.5 544.7,35.7"/>
<polyline points="546.6,7.7 550.4,18.9 546.6,30.1"/>
<polyline points="518.7,13.3 529.9,15.2 535.5,20.8 539.2,30.1"/>
<polyline points="539.2,39.4 546.6,43.1 552.2,39.4"/>
<polyline points="528.0,33.8 520.6,31.9 515.7,36.0"/>
<polyline points="508.7,6.5 512.7,11.4 516.2,19.0 512.7,24.5"/>
<polyline points="529.7,6.2 531.7,11.0 536.7,14.0 541.7,12.0 547.7,16.0 552.7,18.0"/>
<polyline points="520.7,11.0 524.7,9.0 528.7,12.0"/>
<polyline points="532.7,36.0 536.7,33.0 541.7,35.0 546.7,38.0 551.7,30.0"/>
<polyline points="543.7,21.0 547.7,26.0 551.7,25.0"/>
<polyline points="524.7,40.0 529.7,43.0 534.7,41.0"/>
<polyline points="466.6,47.7 470.3,46.8 473.1,54.2 474.9,61.7 477.7,62.6 474.9,58.0"/>
<polyline points="468.4,51.4 476.8,48.7 487.0,44.0"/>
<polyline points="472.1,52.4 483.3,55.2 496.4,58.0 499.1,55.2 503.8,53.3"/>
<polyline points="486.1,68.2 490.8,71.0 496.4,68.2 499.1,59.8 498.2,56.1"/>
<polyline points="496.4,75.7 501.9,72.9 511.3,71.9 518.7,70.1 522.4,77.5 515.0,81.2 505.7,85.0 500.1,81.2 496.4,75.7"/>
<polyline points="505.7,78.5 509.4,85.9 518.7,86.8"/>
<polyline points="524.3,70.1 526.2,81.2 531.7,77.5 541.1,78.5"/>
<polyline points="528.0,58.9 535.5,61.7 541.1,55.2 552.2,62.6 542.9,70.1 535.5,73.8"/>
<polyline points="528.0,45.9 537.3,44.0"/>
<polyline points="542.9,46.8 552.2,45.9"/>
<polyline points="498.2,47.7 509.4,51.4"/>
<polyline points="501.9,58.9 508.5,62.6"/>
<polyline points="510.7,64.0 506.7,70.0 512.7,76.0"/>
<polyline points="530.7,50.0 526.7,55.0 532.7,57.0"/>
<polyline points="537.9,32.8 545.6,36.8 542.7,41.0 538.4,45.8 530.1,45.8"/>
<polyline points="519.6,23.2 518.4,31.0 524.3,29.6 528.6,21.1 534.4,20.8"/>
<polyline points="544.2,11.7 540.6,15.1 536.0,11.1 526.9,15.0 523.9,9.3"/>
<polyline points="550.1,25.7 540.4,26.3 532.9,20.0 537.1,15.0 538.0,9.2"/>
<polyline points="520.7,9.1 517.4,12.8 513.5,13.6 513.5,20.7 513.5,26.1"/>
<polyline points="532.8,31.5 529.6,35.4 520.4,34.3 522.5,43.0 528.1,45.8"/>
<polyline points="515.8,8.4 513.5,9.5 513.5,6.3 519.3,6.3 522.6,6.3"/>
<polyline points="543.4,10.6 552.0,7.0 545.9,6.3 541.0,10.8 531.8,13.6"/>
<polyline points="527.7,39.1 521.9,42.1 522.9,45.8 531.3,45.6 529.1,45.8"/>
<polyline points="517.2,41.3 513.5,42.4 513.5,40.5 513.5,40.2 515.2,45.8"/>
<polyline points="516.7,24.1 513.5,18.8 519.8,13.6 524.7,16.1 530.4,17.2"/>
<polyline points="545.9,17.1 547.1,7.9 552.5,11.2 552.5,14.7 552.5,16.8"/>
<polyline points="530.0,11.9 526.3,6.3 527.2,6.3 524.4,6.3 515.6,6.3"/>
<polyline points="546.7,19.4 552.5,17.4 552.5,20.9 552.5,19.8 552.5,13.5"/>
<polyline points="543.2,31.0 535.9,27.1 532.4,23.5 529.0,18.2 529.9,10.9"/>
<polyline points="544.9,29.5 542.4,21.6 547.9,14.3 548.3,6.3 552.5,6.3"/>
</g>
<polyline points="485,29.6 492,35.6 500,41.6 508.5,46.4 518.5,49.3" fill="none" stroke="#d42214" stroke-width="4.9" stroke-linecap="round" stroke-linejoin="round"/>
<polyline points="485,29.6 492,35.6 500,41.6 508.5,46.4 518.5,49.3" fill="none" stroke="#f02c1c" stroke-width="3.4000000000000004" stroke-linecap="round" stroke-linejoin="round"/>
<polyline points="516,46.5 523.5,41.2 530.6,36.3 534.9,33.6 539.1,34.1 543.4,34.1 547.6,30.6 549.6,27.8 546.2,24.9 542.2,22.9" fill="none" stroke="#d42214" stroke-width="4.9" stroke-linecap="round" stroke-linejoin="round"/>
<polyline points="516,46.5 523.5,41.2 530.6,36.3 534.9,33.6 539.1,34.1 543.4,34.1 547.6,30.6 549.6,27.8 546.2,24.9 542.2,22.9" fill="none" stroke="#f02c1c" stroke-width="3.4000000000000004" stroke-linecap="round" stroke-linejoin="round"/>
<polyline points="486,33 490,37 494,41" fill="none" stroke="#3ee016" stroke-width="2.0" stroke-linecap="round" stroke-linejoin="round" stroke-dasharray="1.5 0.6"/>
<polyline points="506.7,42 511,45" fill="none" stroke="#3ee016" stroke-width="2.0" stroke-linecap="round" stroke-linejoin="round" stroke-dasharray="1.5 0.6"/>
<polyline points="536.3,18.5 538.4,21.4 537.7,25.6 541.2,28.5 544.1,29.2 540,27.5 536.3,26.3 535.6,22.8 536.3,18.5" fill="none" stroke="#3ee016" stroke-width="2.0" stroke-linecap="round" stroke-linejoin="round" stroke-dasharray="1.5 0.6"/>
<polyline points="531.3,28.5 527.8,32 526.3,37.7 529.2,42 533.4,39.8 536.3,36.3 534,31 531.3,28.5" fill="none" stroke="#3ee016" stroke-width="2.0" stroke-linecap="round" stroke-linejoin="round" stroke-dasharray="1.5 0.6"/>
<polyline points="539,35.4 542,37.4 544.8,36" fill="none" stroke="#3ee016" stroke-width="2.0" stroke-linecap="round" stroke-linejoin="round" stroke-dasharray="1.5 0.6"/>
<polyline points="515,41 519,40.5 522,44 526,46.5 524,50 519,49" fill="none" stroke="#3ee016" stroke-width="2.0" stroke-linecap="round" stroke-linejoin="round" stroke-dasharray="1.5 0.6"/>
<polyline points="517.8,42.3 522.7,41.5 524.3,46.3 521.9,49.6 525.1,51.2 526.7,56 524.3,59.3 521,58.5 517.8,54.4 515.4,56.9 516.2,61.7 519.4,64.1 517.8,67.4 514.6,69.8 509.7,69 508.1,65 511.3,63.3 515.4,64.1" fill="none" stroke="#3ee016" stroke-width="2.0" stroke-linecap="round" stroke-linejoin="round" stroke-dasharray="1.5 0.6"/>
<polyline points="506.5,41.5 510.5,43.9" fill="none" stroke="#3ee016" stroke-width="2.0" stroke-linecap="round" stroke-linejoin="round" stroke-dasharray="1.5 0.6"/>
<polyline points="508.9,51.2 513,52 513.8,51.2 516,55" fill="none" stroke="#3ee016" stroke-width="2.0" stroke-linecap="round" stroke-linejoin="round" stroke-dasharray="1.5 0.6"/>
<polyline points="512,57 509,60 512,63" fill="none" stroke="#3ee016" stroke-width="2.0" stroke-linecap="round" stroke-linejoin="round" stroke-dasharray="1.5 0.6"/>
<g stroke="#7f7f7f" stroke-width="1" fill="none">
<path d="M44.8,5.8H675.4M44.8,214.35H675.4M44.8,5.8V214.35M675.4,5.8V214.35"/>
<path d="M255.5,5.8V214.35M465.5,5.8V214.35" stroke="#5a5a5a" stroke-width="1.3"/>
<path d="M42.099999999999994,214.35H44.8"/>
<path d="M42.099999999999994,179.59H44.8"/>
<path d="M42.099999999999994,144.83H44.8"/>
<path d="M42.099999999999994,110.08H44.8"/>
<path d="M42.099999999999994,75.32H44.8"/>
<path d="M42.099999999999994,40.56H44.8"/>
<path d="M42.099999999999994,5.80H44.8"/>
<path d="M121.47,214.35V217.04999999999998"/>
<path d="M188.48,214.35V217.04999999999998"/>
<path d="M255.50,214.35V217.04999999999998"/>
<path d="M331.91,214.35V217.04999999999998"/>
<path d="M398.71,214.35V217.04999999999998"/>
<path d="M465.50,214.35V217.04999999999998"/>
<path d="M541.88,214.35V217.04999999999998"/>
<path d="M608.64,214.35V217.04999999999998"/>
<path d="M675.40,214.35V217.04999999999998"/>
</g>
<text x="39.4" y="219.50" font-size="14.6" text-anchor="end" lengthAdjust="spacingAndGlyphs">0</text>
<text x="39.4" y="184.74" font-size="14.6" text-anchor="end" textLength="13.4" lengthAdjust="spacingAndGlyphs">50</text>
<text x="39.4" y="149.98" font-size="14.6" text-anchor="end" textLength="20.6" lengthAdjust="spacingAndGlyphs">100</text>
<text x="39.4" y="115.23" font-size="14.6" text-anchor="end" textLength="20.6" lengthAdjust="spacingAndGlyphs">150</text>
<text x="39.4" y="80.47" font-size="14.6" text-anchor="end" textLength="20.6" lengthAdjust="spacingAndGlyphs">200</text>
<text x="39.4" y="45.71" font-size="14.6" text-anchor="end" textLength="20.6" lengthAdjust="spacingAndGlyphs">250</text>
<text x="39.4" y="10.95" font-size="14.6" text-anchor="end" textLength="20.6" lengthAdjust="spacingAndGlyphs">300</text>
<text x="114.17" y="229.5" font-size="14.6" textLength="13.4" lengthAdjust="spacingAndGlyphs">50</text>
<text x="176.28" y="229.5" font-size="14.6" textLength="20.6" lengthAdjust="spacingAndGlyphs">100</text>
<text x="243.30" y="229.5" font-size="14.6" textLength="20.6" lengthAdjust="spacingAndGlyphs">150</text>
<text x="106.05" y="245.3" font-size="15" textLength="87.4" lengthAdjust="spacingAndGlyphs">bead number <tspan font-style="italic">i</tspan></text>
<text x="169.9" y="26.9" font-size="16" font-style="italic" textLength="6.0" lengthAdjust="spacingAndGlyphs">t</text>
<text x="175.6" y="26.9" font-size="16" font-style="italic" textLength="7.6" lengthAdjust="spacingAndGlyphs">v</text>
<path d="M185.3,29.3L190.4,15.3" stroke="#1a1a1a" stroke-width="0.95" fill="none"/>
<text x="192.0" y="26.9" font-size="15.4" font-style="italic" textLength="9.6" lengthAdjust="spacingAndGlyphs">L</text>
<path d="M205.9,21.5H215.2M205.9,24.3H215.2" stroke="#1a1a1a" stroke-width="0.9" fill="none"/>
<text x="215.4" y="26.9" font-size="14.8" textLength="31.8" lengthAdjust="spacingAndGlyphs">0.037</text>
<text x="324.61" y="229.5" font-size="14.6" textLength="13.4" lengthAdjust="spacingAndGlyphs">50</text>
<text x="386.51" y="229.5" font-size="14.6" textLength="20.6" lengthAdjust="spacingAndGlyphs">100</text>
<text x="453.30" y="229.5" font-size="14.6" textLength="20.6" lengthAdjust="spacingAndGlyphs">150</text>
<text x="316.40" y="245.3" font-size="15" textLength="87.4" lengthAdjust="spacingAndGlyphs">bead number <tspan font-style="italic">i</tspan></text>
<text x="379.9" y="26.9" font-size="16" font-style="italic" textLength="6.0" lengthAdjust="spacingAndGlyphs">t</text>
<text x="385.6" y="26.9" font-size="16" font-style="italic" textLength="7.6" lengthAdjust="spacingAndGlyphs">v</text>
<path d="M395.3,29.3L400.4,15.3" stroke="#1a1a1a" stroke-width="0.95" fill="none"/>
<text x="402.0" y="26.9" font-size="15.4" font-style="italic" textLength="9.6" lengthAdjust="spacingAndGlyphs">L</text>
<path d="M415.9,21.5H425.2M415.9,24.3H425.2" stroke="#1a1a1a" stroke-width="0.9" fill="none"/>
<text x="425.4" y="26.9" font-size="14.8" textLength="31.8" lengthAdjust="spacingAndGlyphs">0.041</text>
<text x="534.58" y="229.5" font-size="14.6" textLength="13.4" lengthAdjust="spacingAndGlyphs">50</text>
<text x="596.44" y="229.5" font-size="14.6" textLength="20.6" lengthAdjust="spacingAndGlyphs">100</text>
<text x="663.20" y="229.5" font-size="14.6" textLength="20.6" lengthAdjust="spacingAndGlyphs">150</text>
<text x="526.35" y="245.3" font-size="15" textLength="87.4" lengthAdjust="spacingAndGlyphs">bead number <tspan font-style="italic">i</tspan></text>
<text x="589.8" y="26.9" font-size="16" font-style="italic" textLength="6.0" lengthAdjust="spacingAndGlyphs">t</text>
<text x="595.5" y="26.9" font-size="16" font-style="italic" textLength="7.6" lengthAdjust="spacingAndGlyphs">v</text>
<path d="M605.2,29.3L610.3,15.3" stroke="#1a1a1a" stroke-width="0.95" fill="none"/>
<text x="611.9" y="26.9" font-size="15.4" font-style="italic" textLength="9.6" lengthAdjust="spacingAndGlyphs">L</text>
<path d="M625.8,21.5H635.1M625.8,24.3H635.1" stroke="#1a1a1a" stroke-width="0.9" fill="none"/>
<text x="635.3" y="26.9" font-size="14.8" textLength="31.8" lengthAdjust="spacingAndGlyphs">0.046</text>
<text transform="translate(11.8,109.4) rotate(-90)" font-size="15" text-anchor="middle" textLength="68.5" lengthAdjust="spacingAndGlyphs">|<tspan font-weight="bold">f</tspan><tspan font-size="10.5" dy="2.5">tot</tspan><tspan dy="-2.5">|</tspan><tspan font-style="italic">σ</tspan>/<tspan font-style="italic">k</tspan><tspan font-size="10.5" font-style="italic" dy="2.5">B</tspan><tspan font-style="italic" dy="-2.5">T</tspan></text>
</svg></body></html>
